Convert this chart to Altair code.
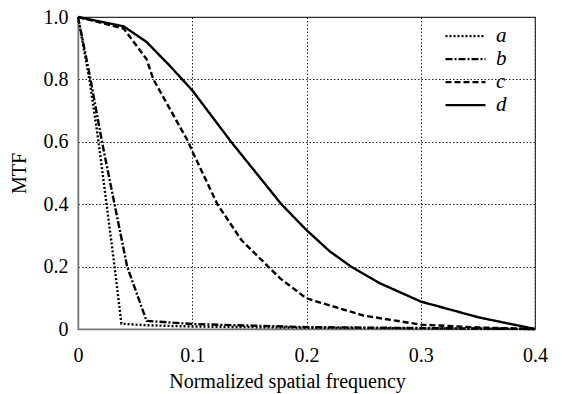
import altair as alt
import pandas as pd

# --- data ---
a_x = [0, 0.01, 0.018, 0.025, 0.032, 0.038, 0.06, 0.1, 0.2, 0.3, 0.4]
a_y = [1.0, 0.8, 0.6, 0.4, 0.2, 0.017, 0.012, 0.008, 0.004, 0.002, 0.0]

b_x = [0, 0.011, 0.021, 0.032, 0.043, 0.06, 0.1, 0.2, 0.3, 0.4]
b_y = [1.0, 0.8, 0.6, 0.4, 0.2, 0.026, 0.016, 0.006, 0.003, 0.0]

c_x = [0, 0.04, 0.06, 0.066, 0.0965, 0.1, 0.122, 0.143, 0.177, 0.2, 0.25, 0.3, 0.35, 0.4]
c_y = [1.0, 0.963, 0.865, 0.8, 0.6, 0.57, 0.4, 0.285, 0.162, 0.098, 0.043, 0.014, 0.005, 0.0]

d_x = [0, 0.04, 0.06, 0.08, 0.1, 0.134, 0.178, 0.2, 0.22, 0.239, 0.264, 0.3, 0.351, 0.4]
d_y = [1.0, 0.97, 0.92, 0.845, 0.765, 0.6, 0.4, 0.317, 0.25, 0.2, 0.147, 0.088, 0.037, 0.0]

series = ["a", "b", "c", "d"]
x_ticks = [0, 0.1, 0.2, 0.3, 0.4]
y_ticks = [0, 0.2, 0.4, 0.6, 0.8, 1.0]

rows = []
for name, xs, ys in zip(series, [a_x, b_x, c_x, d_x], [a_y, b_y, c_y, d_y]):
    for i, (x, y) in enumerate(zip(xs, ys)):
        rows.append({"series": name, "f": x, "mtf": y, "order": i})
df = pd.DataFrame(rows)

FONT = "Liberation Serif, Times New Roman, DejaVu Serif, serif"

chart = alt.Chart(df).mark_line(strokeWidth=2.4, color="black").encode(
    x=alt.X("f:Q",
            scale=alt.Scale(domain=[0, 0.4], nice=False, zero=False),
            axis=alt.Axis(values=x_ticks, title="Normalized spatial frequency",
                          labelExpr="datum.value == 0 ? '0' : format(datum.value, '.1f')",
                          ticks=False, labelPadding=16, titlePadding=6,
                          labelFlush=False, titleX=209, titleAlign="center",
                          titleAnchor="start",
                          gridDash=[1.5, 2], gridColor="#222", gridWidth=1)),
    y=alt.Y("mtf:Q",
            scale=alt.Scale(domain=[0, 1], nice=False),
            axis=alt.Axis(values=y_ticks, title="MTF",
                          labelExpr="datum.value == 0 ? '0' : format(datum.value, '.1f')",
                          ticks=False, labelPadding=10, titlePadding=14,
                          labelFlush=False,
                          gridDash=[1.5, 2], gridColor="#222", gridWidth=1)),
    strokeDash=alt.StrokeDash("series:N",
                              scale=alt.Scale(domain=series,
                                              range=[[2, 2], [7, 2, 2, 2], [6, 3], [1, 0]]),
                              legend=alt.Legend(title=None, orient="none",
                                                legendX=366, legendY=8.5,
                                                symbolType="stroke", symbolSize=1600,
                                                symbolStrokeWidth=2.4,
                                                symbolStrokeColor="black",
                                                labelFont=FONT, labelFontSize=21,
                                                labelFontStyle="italic",
                                                labelColor="black",
                                                labelOffset=9, rowPadding=0,
                                                clipHeight=21.3,
                                                padding=0)),
    order="order:Q",
).properties(
    width=457, height=312,
    autosize=alt.AutoSizeParams(type="none"),
    padding={"left": 78, "top": 17, "right": 27, "bottom": 65},
).configure_view(
    stroke="#333", strokeWidth=1.2
).configure_axis(
    labelFont=FONT, titleFont=FONT, labelFontSize=20, titleFontSize=20,
    labelColor="black", titleColor="black", titleFontWeight="normal",
    domainColor="#777", domainWidth=1.5,
)

chart.save("out.html", embed_options={"renderer": "svg", "actions": False})
